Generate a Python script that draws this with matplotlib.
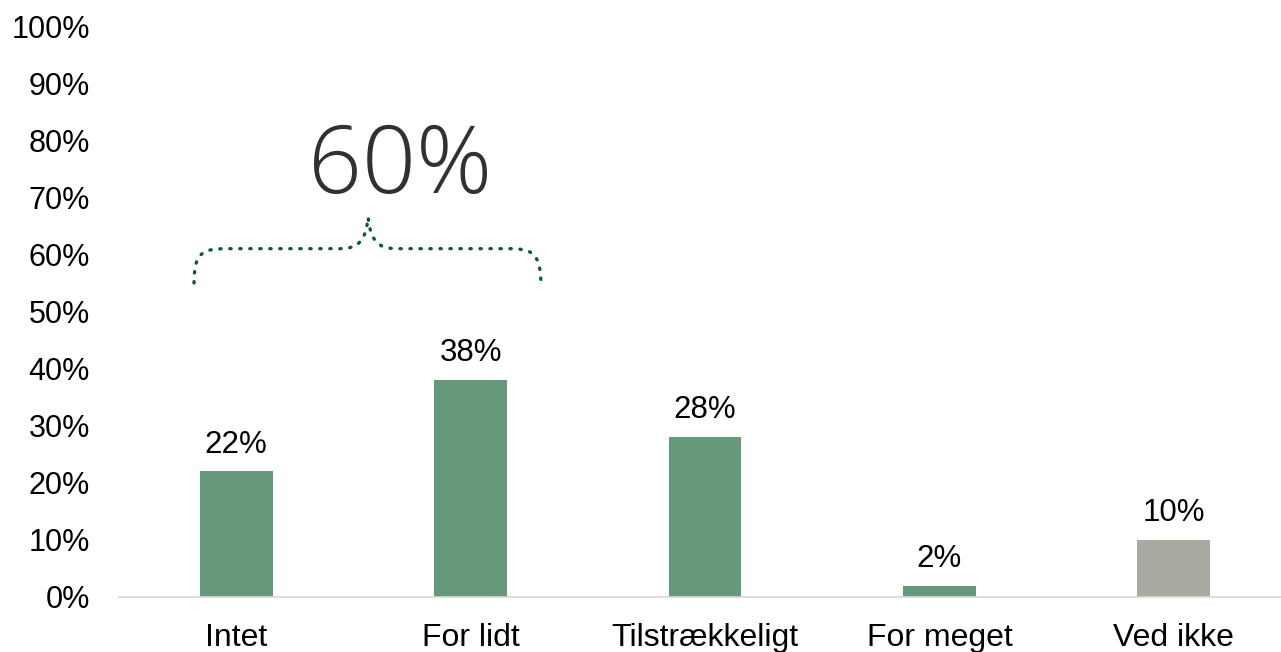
import matplotlib.pyplot as plt
from matplotlib.path import Path
from matplotlib.patches import PathPatch
import numpy as np

plt.rcParams['font.family'] = ['Liberation Sans', 'DejaVu Sans']

categories = ["Intet", "For lidt", "Tilstrækkeligt", "For meget", "Ved ikke"]
values = [22, 38, 28, 2, 10]
colors = ["#66987B", "#66987B", "#66987B", "#66987B", "#A9AAA0"]
brace_total = values[0] + values[1]  # 60%

fig = plt.figure(figsize=(12.81, 6.52), dpi=100)
ax = fig.add_axes([119 / 1281, 55 / 652, 1172 / 1281, 571 / 652])

x = np.arange(len(categories))
bars = ax.bar(x, values, width=0.31, color=colors, zorder=2)

for xi, v in zip(x, values):
    ax.annotate(f"{v}%", (xi, v), xytext=(0, 8.5), textcoords="offset points",
                ha="center", va="bottom", fontsize=22.5, color="black")

ax.set_xlim(-0.5, len(categories) - 0.5)
ax.set_ylim(0, 100)
ax.set_yticks(np.arange(0, 101, 10))
ax.set_yticklabels([f"{t}%" for t in range(0, 101, 10)])
ax.set_xticks(x)
ax.set_xticklabels(categories)
ax.tick_params(axis="y", length=0, pad=21, labelsize=22)
ax.tick_params(axis="x", length=0, pad=19, labelsize=23)

for s in ["top", "right", "left"]:
    ax.spines[s].set_visible(False)
ax.spines["bottom"].set_color("#D9D9D6")
ax.spines["bottom"].set_linewidth(1.2)
ax.spines["bottom"].set_clip_on(False)

# curly brace over the first two bars
xl, xr = -0.18, 1.30
xm = 0.563
yb, yh, yt = 55, 61, 66.5
verts = [
    (xl, yb),
    (xl, yh - 0.5), (xl + 0.04, yh), (xl + 0.14, yh),
    (xm - 0.12, yh),
    (xm - 0.04, yh), (xm - 0.01, yh + 1.5), (xm, yt),
    (xm + 0.01, yh + 1.5), (xm + 0.04, yh), (xm + 0.12, yh),
    (xr - 0.14, yh),
    (xr - 0.04, yh), (xr, yh - 0.5), (xr, yb - 0.5),
]
codes = [Path.MOVETO,
         Path.CURVE4, Path.CURVE4, Path.CURVE4,
         Path.LINETO,
         Path.CURVE4, Path.CURVE4, Path.CURVE4,
         Path.CURVE4, Path.CURVE4, Path.CURVE4,
         Path.LINETO,
         Path.CURVE4, Path.CURVE4, Path.CURVE4]
brace = PathPatch(Path(verts, codes), fill=False, edgecolor="#0E5A2C",
                  linewidth=2.4, linestyle=(0, (0.4, 2.6)), capstyle="round")
ax.add_patch(brace)

ax.text(0.70, 70.8, f"{brace_total}%", ha="center", va="baseline", fontsize=68,
        color="#32322C", family=["Open Sans", "DejaVu Sans"], fontweight="light")

fig.savefig("out.png", dpi=100)
